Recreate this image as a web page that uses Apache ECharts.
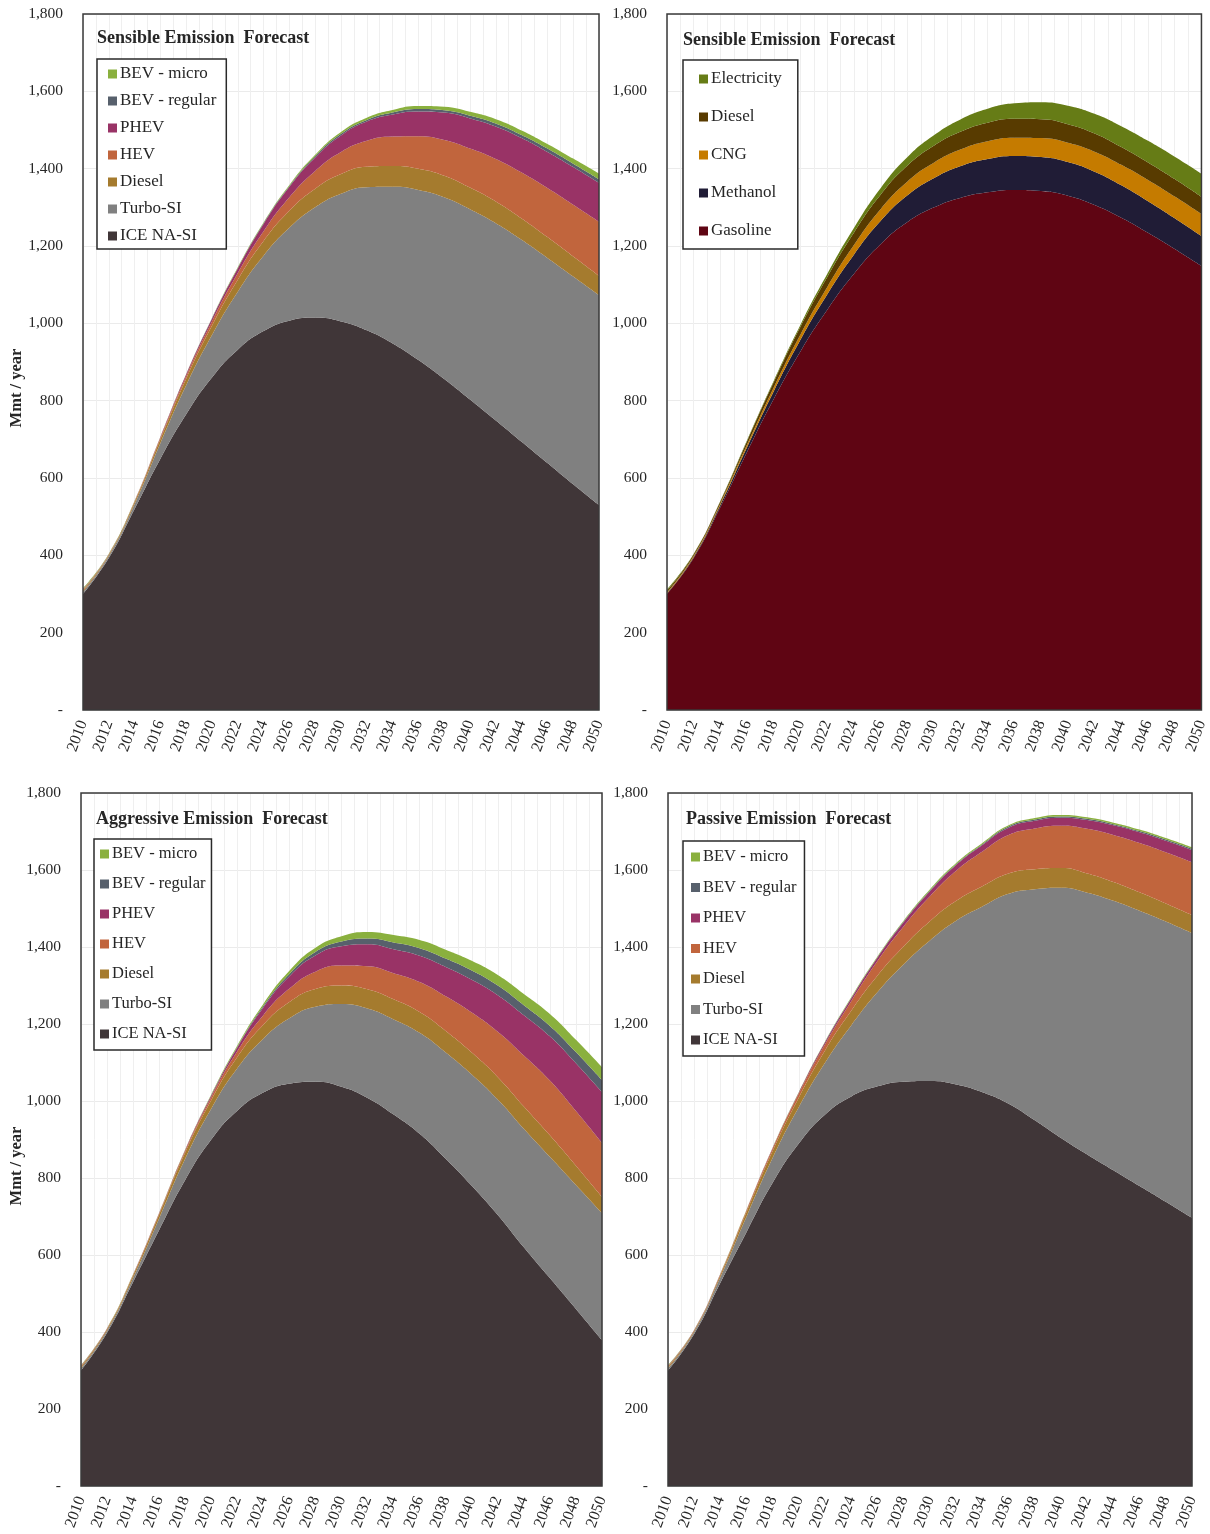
<!DOCTYPE html>
<html>
<head>
<meta charset="utf-8">
<script src="https://cdn.jsdelivr.net/npm/echarts@6/dist/echarts.min.js"></script>
<style>
  html, body { margin: 0; padding: 0; background: #fff; }
  #chart { width: 1210px; height: 1534px; }
</style>
</head>
<body>
<div id="chart"></div>
<script>
// x categories (data every two years)
const years = ['2010','2012','2014','2016','2018','2020','2022','2024','2026','2028','2030',
               '2032','2034','2036','2038','2040','2042','2044','2046','2048','2050'];

// stack order, bottom first
const techNames = ['ICE NA-SI', 'Turbo-SI', 'Diesel', 'HEV', 'PHEV', 'BEV - regular', 'BEV - micro'];
const techColors = ['#403638', '#808080', '#A57B2E', '#C1653D', '#993366', '#57606C', '#8AB03E'];
const fuelNames = ['Gasoline', 'Methanol', 'CNG', 'Diesel', 'Electricity'];
const fuelColors = ['#5F0513', '#201C36', '#C57B00', '#583B00', '#667C16'];

// Sensible forecast, by technology (Mmt / year)
const senIce    = [300,393,520,650,765,860,932,980,1007,1015,1005,982,948,905,856,803,749,694,639,584,530];
const senTurbo  = [5,5,12,40,75,110,150,195,240,285,330,370,405,440,470,492,510,522,530,537,543];
const senDiesel = [4,3,5,10,17,24,31,38,44,48,51,53,54,55,56,56,56,55,54,52,50];
const senHev    = [2,1,2,4,7,11,17,25,35,46,57,67,76,84,92,101,110,119,127,134,140];
const senPhev   = [1,1,1,2,4,7,12,19,27,35,43,50,57,64,71,78,84,89,93,97,100];
const senBevReg = [1,0,0,0,0,1,1,2,2,3,4,4,5,6,6,7,8,8,9,9,10];
const senBevMic = [2,1,1,1,1,1,2,2,3,4,5,6,7,8,9,10,11,12,12,13,14];

// Sensible forecast, by fuel
const fuelGasoline = [300,393,525,668,805,928,1035,1128,1205,1262,1300,1325,1339,1345,1342,1330,1306,1273,1234,1192,1148];
const fuelMethanol = [2,3,6,12,20,30,40,50,60,69,76,82,86,88,88,87,86,84,82,80,78];
const fuelCng      = [2,3,4,7,10,14,19,25,31,36,40,43,46,47,49,50,52,53,55,56,57];
const fuelDiesel   = [5,4,5,9,14,20,26,32,37,41,44,46,48,49,49,48,47,46,45,45,44];
const fuelElec     = [3,1,1,2,3,5,8,12,17,22,27,32,36,40,44,48,51,54,56,58,60];

// Aggressive forecast
const aggIce    = [300,398,530,665,795,900,975,1022,1045,1050,1037,1008,965,915,850,780,704,620,540,460,379];
const aggTurbo  = [5,5,10,30,55,80,110,140,170,195,215,232,247,262,276,289,300,308,315,322,330];
const aggDiesel = [4,4,6,10,16,22,29,36,42,46,48,50,52,54,56,57,58,58,56,50,42];
const aggHev    = [2,1,2,3,5,8,15,25,35,45,52,60,68,78,90,104,118,132,142,142,140];
const aggPhev   = [1,1,1,1,2,4,10,20,32,42,50,57,62,68,76,85,95,105,115,124,132];
const aggBevReg = [0,0,0,0,0,1,2,4,6,9,12,15,18,20,22,24,25,26,27,29,31];
const aggBevMic = [2,1,1,1,1,2,3,5,8,11,14,17,19,21,23,25,27,29,31,32,34];

// Passive forecast
const pasIce    = [300,395,528,660,788,890,965,1012,1038,1050,1052,1043,1023,993,950,904,861,820,779,738,696];
const pasTurbo  = [5,5,14,40,65,95,135,185,245,305,365,425,482,545,600,650,680,700,715,728,740];
const pasDiesel = [4,3,6,12,18,25,32,38,43,47,50,52,53,53,52,51,50,49,48,47,47];
const pasHev    = [2,1,2,4,6,10,16,25,38,52,65,78,90,100,106,110,116,122,128,133,137];
const pasPhev   = [1,1,1,1,2,3,5,7,9,11,13,15,17,19,20,21,23,25,28,30,32];
const pasBevReg = [0,0,0,0,0,0,1,1,1,2,2,2,2,3,3,3,3,3,3,3,3];
const pasBevMic = [2,1,1,1,1,1,1,2,2,2,3,3,3,3,4,4,4,4,4,4,4];

const FONT = "'Liberation Serif', 'Times New Roman', serif";
const TXT = '#262626';

const panels = [
  { title: 'Sensible Emission  Forecast', names: techNames, colors: techColors,
    data: [senIce, senTurbo, senDiesel, senHev, senPhev, senBevReg, senBevMic],
    grid: { left: 83, top: 14, width: 516, height: 696 },
    titlePos: { left: 97, top: 29 },
    legend: { left: 97, top: 59, padding: [6, 10, 4, 11], itemGap: 9, fontSize: 17 },
    yName: 388 },
  { title: 'Sensible Emission  Forecast', names: fuelNames, colors: fuelColors,
    data: [fuelGasoline, fuelMethanol, fuelCng, fuelDiesel, fuelElec],
    grid: { left: 667, top: 14, width: 535, height: 696 },
    titlePos: { left: 683, top: 31 },
    legend: { left: 683, top: 60, padding: [10, 16, 9, 16], itemGap: 20, fontSize: 17 },
    yName: null },
  { title: 'Aggressive Emission  Forecast', names: techNames, colors: techColors,
    data: [aggIce, aggTurbo, aggDiesel, aggHev, aggPhev, aggBevReg, aggBevMic],
    grid: { left: 81, top: 793, width: 521, height: 693 },
    titlePos: { left: 96, top: 810 },
    legend: { left: 94, top: 839, padding: [6, 6, 7, 6], itemGap: 12, fontSize: 16.5 },
    yName: 1166 },
  { title: 'Passive Emission  Forecast', names: techNames, colors: techColors,
    data: [pasIce, pasTurbo, pasDiesel, pasHev, pasPhev, pasBevReg, pasBevMic],
    grid: { left: 668, top: 793, width: 524, height: 693 },
    titlePos: { left: 686, top: 810 },
    legend: { left: 683, top: 841, padding: [7, 8, 7, 8], itemGap: 12.5, fontSize: 16.5 },
    yName: null }
];

const option = {
  animation: false,
  backgroundColor: '#fff',
  textStyle: { fontFamily: FONT },
  title: [], legend: [], grid: [], xAxis: [], yAxis: [], series: [], graphic: []
};

panels.forEach((p, i) => {
  option.grid.push(Object.assign({
    show: true, z: 10, backgroundColor: 'transparent',
    borderColor: '#3a3a3a', borderWidth: 1.5
  }, p.grid));

  option.title.push({
    text: p.title, left: p.titlePos.left, top: p.titlePos.top, padding: 0,
    textStyle: { fontFamily: FONT, fontSize: 18, fontWeight: 'bold', color: TXT }
  });

  // axis carrying the data and the year labels
  option.xAxis.push({
    type: 'category', gridIndex: i, data: years, boundaryGap: false,
    axisLine: { show: false }, axisTick: { show: false }, splitLine: { show: false },
    axisLabel: { interval: 0, rotate: 70, margin: 11, fontFamily: FONT, fontSize: 16, color: TXT }
  });
  // yearly vertical grid lines
  option.xAxis.push({
    type: 'value', gridIndex: i, min: 2010, max: 2050, interval: 1,
    axisLine: { show: false }, axisTick: { show: false }, axisLabel: { show: false },
    splitLine: { show: true, lineStyle: { color: '#efefef', width: 1 } }
  });

  option.yAxis.push({
    type: 'value', gridIndex: i, min: 0, max: 1800, interval: 200,
    axisLine: { show: false }, axisTick: { show: false },
    splitLine: { show: true, lineStyle: { color: '#ebebeb', width: 1 } },
    axisLabel: {
      margin: 20, fontFamily: FONT, fontSize: 15.5, color: TXT,
      formatter: v => v === 0 ? '-' : v.toLocaleString('en-US')
    }
  });

  const legendData = p.names.map((n, k) => ({ name: n, itemStyle: { color: p.colors[k] } })).reverse();
  option.legend.push({
    orient: 'vertical', left: p.legend.left, top: p.legend.top,
    padding: p.legend.padding, itemGap: p.legend.itemGap,
    itemWidth: 9, itemHeight: 9, icon: 'rect',
    borderColor: '#2a2a2a', borderWidth: 1.5, backgroundColor: '#fff',
    selectedMode: false, data: legendData,
    textStyle: { fontFamily: FONT, fontSize: p.legend.fontSize, color: TXT, lineHeight: 18, padding: [0, 0, 0, -2] }
  });

  p.names.forEach((n, k) => {
    option.series.push({
      name: n, type: 'line', stack: 'panel' + i,
      xAxisIndex: i * 2, yAxisIndex: i,
      data: p.data[k], smooth: 0.5, symbol: 'none',
      lineStyle: { width: 0 },
      itemStyle: { color: p.colors[k] },
      areaStyle: { color: p.colors[k], opacity: 1 }
    });
  });

  if (p.yName !== null) {
    option.graphic.push({
      type: 'text', x: 17, y: p.yName, rotation: Math.PI / 2,
      style: { text: 'Mmt / year', font: "bold 16.5px 'Liberation Serif', serif", fill: TXT,
               align: 'center', verticalAlign: 'middle' }
    });
  }
});

const chart = echarts.init(document.getElementById('chart'));
chart.setOption(option);
</script>
</body>
</html>
